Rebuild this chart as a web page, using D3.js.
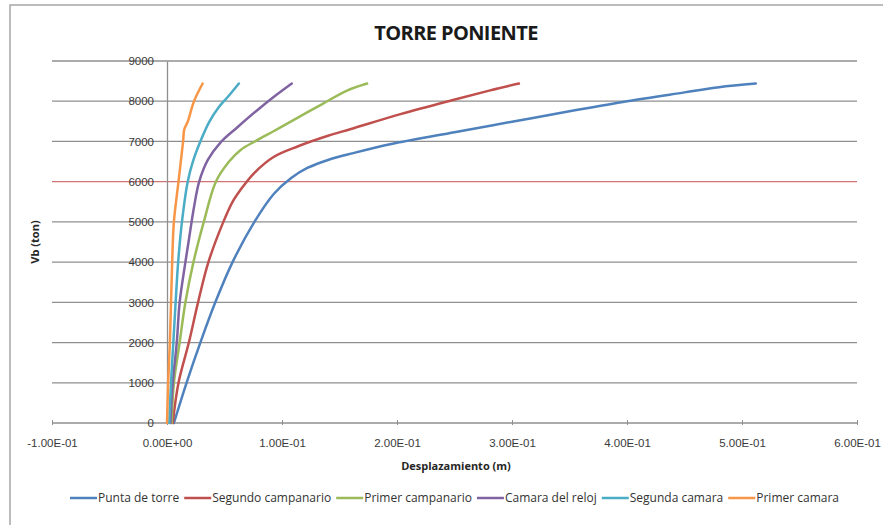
<!DOCTYPE html>
<html>
<head>
<meta charset="utf-8">
<script src="https://cdn.jsdelivr.net/npm/d3@7"></script>
<style>
	body { margin: 0; background: #fff; }
	svg { font-family: 'Open Sans', sans-serif; }
	.tick text { fill: #3a3a3a; font-size: 11.5px; }
</style>
</head>
<body>
<svg width="883" height="525"></svg>
<script>
// valores (desplazamiento en m, Vb en ton)
const series = ['Punta de torre', 'Segundo campanario', 'Primer campanario', 'Camara del reloj', 'Segunda camara', 'Primer camara']
const colors = ['#4F81BD', '#C0504D', '#9BBB59', '#8064A2', '#4BACC6', '#F79646']

const puntaX = [0.006, 0.017, 0.029, 0.042, 0.057, 0.076, 0.093, 0.108, 0.122, 0.14, 0.162, 0.194, 0.25, 0.3, 0.35, 0.4, 0.45, 0.48, 0.512]
const puntaY = [0, 1000, 2000, 3000, 4000, 5000, 5700, 6090, 6340, 6540, 6710, 6930, 7230, 7490, 7750, 8000, 8220, 8350, 8440]
const segCampX = [0.005, 0.010, 0.019, 0.027, 0.036, 0.049, 0.057, 0.064, 0.076, 0.093, 0.114, 0.14, 0.16, 0.203, 0.247, 0.281, 0.306]
const segCampY = [0, 1000, 2000, 3000, 4000, 5000, 5500, 5800, 6220, 6620, 6880, 7140, 7310, 7680, 8020, 8270, 8440]
const priCampX = [0.004, 0.006, 0.011, 0.016, 0.023, 0.032, 0.0425, 0.054, 0.064, 0.077, 0.093, 0.108, 0.135, 0.157, 0.174]
const priCampY = [0, 1000, 2000, 3000, 4000, 5000, 6000, 6500, 6790, 7010, 7260, 7500, 7930, 8270, 8440]
const relojX = [0.003, 0.005, 0.0085, 0.011, 0.016, 0.019, 0.0235, 0.028, 0.0355, 0.047, 0.0615, 0.079, 0.093, 0.1085]
const relojY = [0, 1000, 2000, 3000, 4000, 4550, 5370, 6000, 6540, 6990, 7360, 7790, 8110, 8440]
const segCamX = [0.002, 0.0035, 0.0055, 0.0075, 0.0097, 0.013, 0.018, 0.0225, 0.029, 0.037, 0.045, 0.053, 0.0625]
const segCamY = [0, 1000, 2000, 3000, 4000, 5000, 6000, 6500, 7000, 7500, 7850, 8110, 8440]
const priCamX = [0.0, 0.001, 0.0025, 0.0035, 0.0045, 0.006, 0.010, 0.014, 0.015, 0.018, 0.0235, 0.031]
const priCamY = [0, 1000, 2000, 3000, 4000, 5000, 6000, 7000, 7300, 7490, 8000, 8440]

const xTicks = [-0.1, 0, 0.1, 0.2, 0.3, 0.4, 0.5, 0.6]
const yTicks = [0, 1000, 2000, 3000, 4000, 5000, 6000, 7000, 8000, 9000]
const lineaRoja = 6000

const xs = [puntaX, segCampX, priCampX, relojX, segCamX, priCamX]
const ys = [puntaY, segCampY, priCampY, relojY, segCamY, priCamY]
const data = series.map((name, i) => ({
	name,
	color: colors[i],
	values: xs[i].map((x, j) => ({ x, y: ys[i][j] }))
}))

const svg = d3.select('svg')
const x = d3.scaleLinear().domain([-0.1, 0.6]).range([52, 857])
const y = d3.scaleLinear().domain([0, 9000]).range([423, 61])

// marco del area del grafico
svg.append('rect')
	.attr('x', 10).attr('y', 5)
	.attr('width', 900).attr('height', 560)
	.attr('fill', 'none')
	.attr('stroke', '#a6a6a6')
	.attr('stroke-width', 1.5)

svg.append('text')
	.attr('x', 456).attr('y', 40)
	.attr('text-anchor', 'middle')
	.style('font-size', '20px')
	.style('font-weight', 700)
	.style('letter-spacing', '-0.6px')
	.attr('fill', '#1a1a1a')
	.text('TORRE PONIENTE')

// lineas de cuadricula
svg.append('g')
	.selectAll('line')
	.data(yTicks.filter(d => d > 0))
	.join('line')
	.attr('x1', x(-0.1)).attr('x2', x(0.6))
	.attr('y1', d => y(d)).attr('y2', d => y(d))
	.attr('stroke', d => d === lineaRoja ? '#d27474' : '#8f8f8f')
	.attr('stroke-width', 1.3)

// eje x en y = 0
const fmtX = d => d3.format('.2e')(d).replace('−', '-').replace('e', 'E').replace(/E([+-])(\d)$/, 'E$10$2')
const xAxis = svg.append('g')
	.attr('transform', `translate(0,${y(0)})`)
	.call(d3.axisBottom(x).tickValues(xTicks).tickSize(4).tickPadding(12).tickFormat(fmtX))
xAxis.select('.domain').attr('stroke', '#8f8f8f').attr('stroke-width', 1.3).attr('d', `M${x(-0.1)},0H${x(0.6)}`)
xAxis.selectAll('.tick line').attr('stroke', '#8f8f8f').attr('y1', -3).attr('y2', 2)

// eje y en x = 0
const yAxis = svg.append('g')
	.attr('transform', `translate(${x(0)},0)`)
	.call(d3.axisLeft(y).tickValues(yTicks).tickSize(0).tickPadding(13).tickFormat(d3.format('d')))
yAxis.select('.domain').attr('stroke', '#8f8f8f').attr('stroke-width', 1.3)

svg.append('text')
	.attr('x', 456).attr('y', 470)
	.attr('text-anchor', 'middle')
	.style('font-size', '11px')
	.style('font-weight', 700)
	.attr('fill', '#262626')
	.text('Desplazamiento (m)')

svg.append('text')
	.attr('transform', `translate(39,${(y(0) + y(9000)) / 2}) rotate(-90)`)
	.attr('text-anchor', 'middle')
	.style('font-size', '11px')
	.style('font-weight', 700)
	.attr('fill', '#262626')
	.text('Vb (ton)')

// curvas suavizadas
const line = d3.line()
	.x(d => x(d.x))
	.y(d => y(d.y))
	.curve(d3.curveCatmullRom.alpha(0.5))

svg.append('g')
	.selectAll('path')
	.data(data)
	.join('path')
	.attr('d', d => line(d.values))
	.attr('fill', 'none')
	.attr('stroke', d => d.color)
	.attr('stroke-width', 2.5)
	.attr('stroke-linecap', 'round')

// leyenda
const legend = svg.append('g').attr('transform', 'translate(0,498)')
const items = legend.selectAll('g')
	.data(data)
	.join('g')
items.append('line')
	.attr('x1', 0).attr('x2', 27)
	.attr('stroke', d => d.color)
	.attr('stroke-width', 2.5)
items.append('text')
	.attr('x', 28).attr('dy', '0.35em')
	.style('font-size', '12px')
	.attr('fill', '#333')
	.text(d => d.name)
let widths = []
items.each(function () { widths.push(27 + d3.select(this).select('text').node().getComputedTextLength()) })
const gap = 6
const total = d3.sum(widths) + gap * (widths.length - 1)
let pos = 60 + ((848 - 60) - total) / 2
items.attr('transform', (d, i) => {
	const t = `translate(${pos},0)`
	pos += widths[i] + gap
	return t
})
</script>
</body>
</html>
